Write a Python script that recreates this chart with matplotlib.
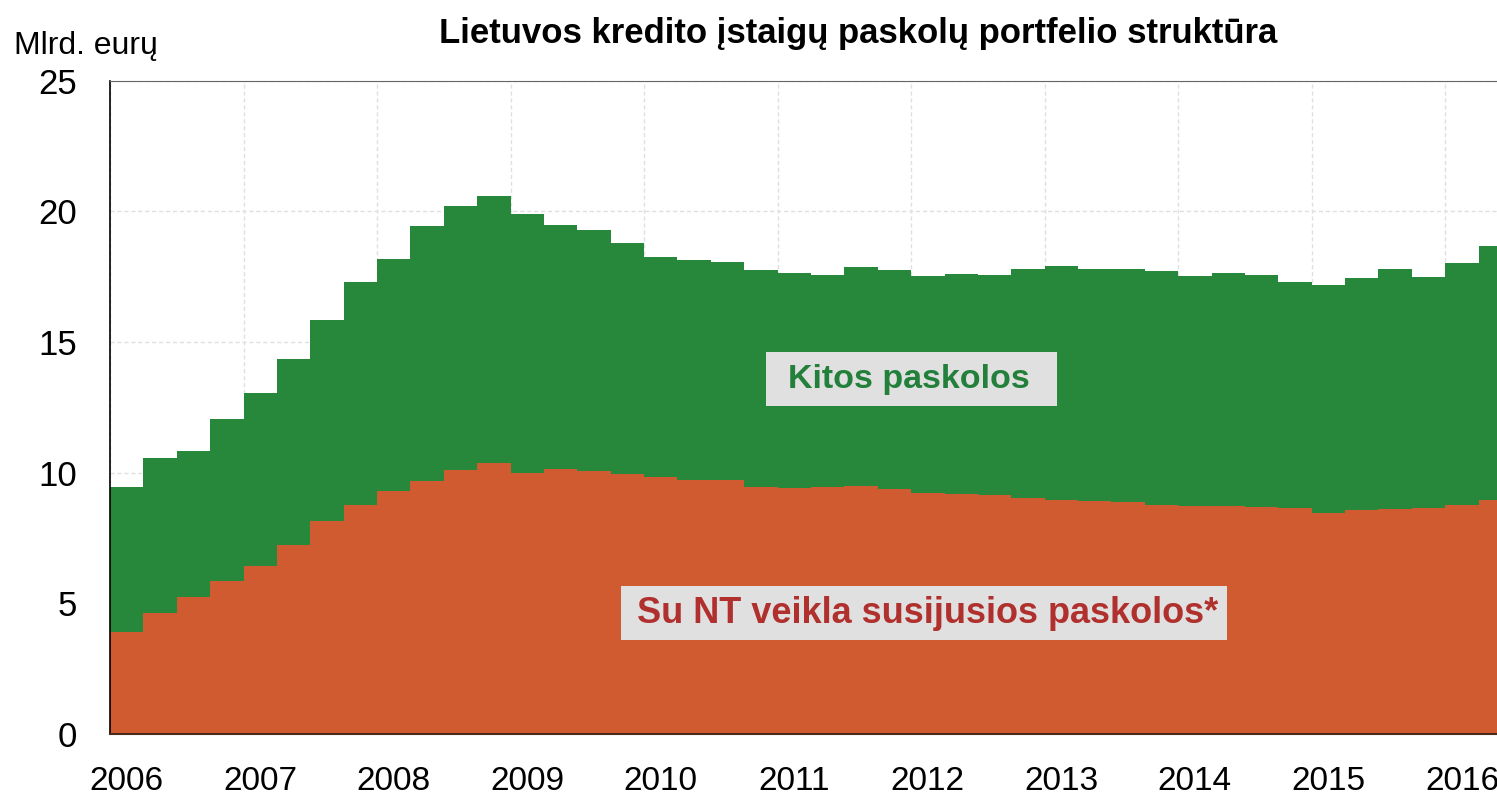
import numpy as np
import matplotlib
matplotlib.use("Agg")
import matplotlib.pyplot as plt
from matplotlib.patches import Rectangle

# quarterly data, 2006 Q1 .. 2016 Q2 (bln EUR)
years = [str(y) for y in range(2006, 2017)]
real_estate = [3.89, 4.62, 5.23, 5.85, 6.42, 7.22, 8.14, 8.74,
               9.30, 9.67, 10.11, 10.35, 9.98, 10.12, 10.07, 9.94,
               9.82, 9.71, 9.71, 9.44, 9.42, 9.44, 9.48, 9.37,
               9.22, 9.19, 9.15, 9.01, 8.95, 8.91, 8.88, 8.76,
               8.72, 8.72, 8.68, 8.63, 8.46, 8.55, 8.61, 8.63,
               8.76, 8.95]
total = [9.44, 10.54, 10.84, 12.05, 13.06, 14.33, 15.83, 17.29,
         18.16, 19.43, 20.20, 20.57, 19.88, 19.46, 19.27, 18.77,
         18.26, 18.14, 18.06, 17.76, 17.63, 17.56, 17.86, 17.74,
         17.53, 17.61, 17.56, 17.78, 17.92, 17.78, 17.79, 17.70,
         17.53, 17.65, 17.55, 17.29, 17.17, 17.46, 17.79, 17.47,
         18.03, 18.66]

real_estate = np.array(real_estate)
other = np.array(total) - real_estate
x = np.arange(len(real_estate))

GREEN = "#27883b"
ORANGE = "#d15b30"
BOXGREY = "#e0e0e0"
FONT = ["Liberation Sans", "DejaVu Sans"]

fig = plt.figure(figsize=(14.97, 7.99), dpi=100)
ax = fig.add_axes([110 / 1497, 65.3 / 799, 1 - 110 / 1497, (733.7 - 80.7) / 799])

ax.bar(x, real_estate, width=1.0, color=ORANGE, linewidth=0, zorder=2)
ax.bar(x, other, width=1.0, bottom=real_estate, color=GREEN, linewidth=0, zorder=2)

ax.set_xlim(-0.5, 41.05)
ax.set_ylim(0, 25)
ax.set_yticks(range(0, 26, 5))
ax.set_xticks(np.arange(0, len(x), 4))
ax.set_xticklabels(years)
ax.set_xticks(np.arange(-0.5, len(x), 4), minor=True)

ax.grid(False)
ax.grid(True, axis="y", which="major", color="#e0e0e0", linestyle=(0, (3, 2)), linewidth=1, zorder=0)
ax.grid(True, axis="x", which="minor", color="#e0e0e0", linestyle=(0, (3, 2)), linewidth=1, zorder=0)
ax.set_axisbelow(True)

ax.tick_params(axis="both", which="both", length=0)
ax.tick_params(axis="y", pad=24, labelsize=25)
ax.tick_params(axis="x", pad=23, labelsize=24)
for lab in ax.get_xticklabels() + ax.get_yticklabels():
    lab.set_family(FONT)

ax.spines["right"].set_visible(False)
ax.spines["top"].set_color("#666666")
ax.spines["left"].set_color("black")
ax.spines["bottom"].set_color("#4a2a1a")
ax.spines["left"].set_linewidth(1.2)
ax.spines["bottom"].set_linewidth(1.5)

fig.text(858 / 1497, 1 - 34 / 799, "Lietuvos kredito įstaigų paskolų portfelio struktūra",
         ha="center", va="center", fontsize=25, fontweight="bold", family=FONT)
fig.text(14 / 1497, 1 - 46 / 799, "Mlrd. eurų", ha="left", va="center",
         fontsize=23, family=FONT)

# label boxes
ax.add_patch(Rectangle((19.15, 12.55), 8.72, 2.06, facecolor=BOXGREY,
                       edgecolor="none", zorder=4))
ax.text(23.42, 13.55, "Kitos paskolos", ha="center", va="center", fontsize=24.5,
        fontweight="bold", color="#23803a", family=FONT, zorder=5)
ax.add_patch(Rectangle((14.81, 3.59), 18.16, 2.06, facecolor=BOXGREY,
                       edgecolor="none", zorder=4))
ax.text(23.99, 4.6, "Su NT veikla susijusios paskolos*", ha="center", va="center",
        fontsize=26, fontweight="bold", color="#b0302e", family=FONT, zorder=5)

fig.savefig("out.png", dpi=100)
